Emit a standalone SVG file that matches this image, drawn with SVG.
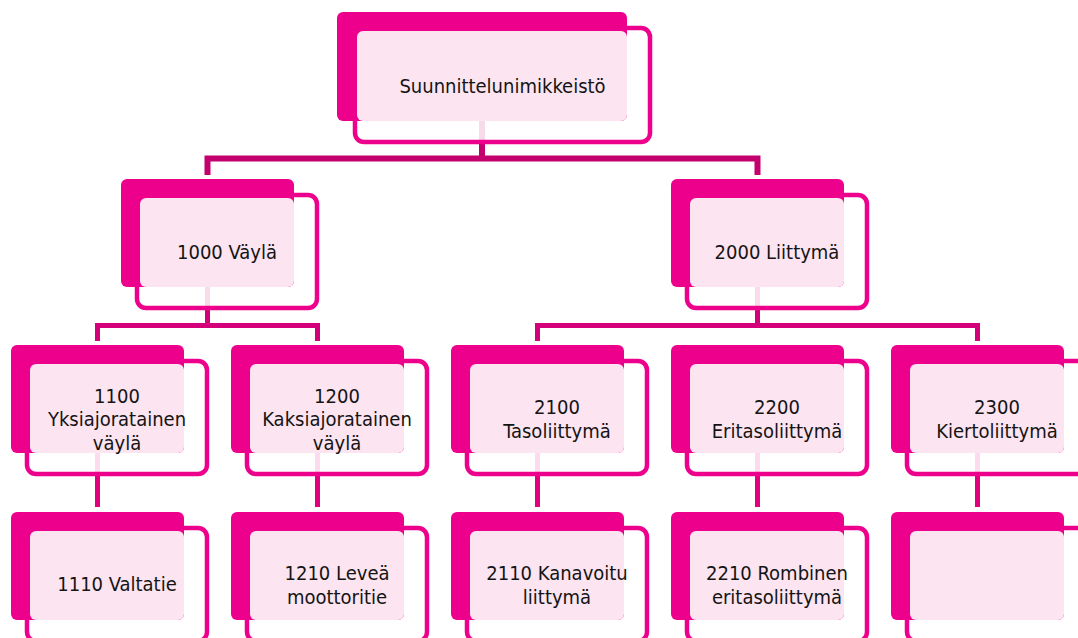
<svg xmlns="http://www.w3.org/2000/svg" width="1078" height="638" viewBox="0 0 1078 638">
<style>
.bg{fill:#ffffff}
.ol{fill:#ffffff;fill-opacity:0.86;stroke:#ec008c;stroke-width:4.5}
.mg{fill:#ec008c}
.pk{fill:#fce4f1}
.t{font-family:"DejaVu Sans Condensed","DejaVu Sans",sans-serif;font-size:20px;fill:#141414;text-anchor:middle}
.c1{fill:none;stroke:#c4006f;stroke-width:6}
.c2{fill:none;stroke:#d4007a;stroke-width:5}
.c3{fill:none;stroke:#e2007f;stroke-width:5}
</style>
<rect class="bg" x="0" y="0" width="1078" height="638"/>
<g id="connectors">
<path class="c1" d="M482 121 V158.5 M207.5 175 V158.5 H757.5 V175"/>
<path class="c2" d="M207.5 287 V325.5 M97.5 341 V325.5 H317.5 V341"/>
<path class="c2" d="M757.5 287 V325.5 M537.5 341 V325.5 H977.5 V341"/>
<path class="c3" d="M97.5 453 V507 M317.5 453 V507 M537.5 453 V507 M757.5 453 V507 M977.5 453 V507"/>
</g>
<g id="n-root">
<rect class="ol" x="355" y="28" width="295" height="114" rx="9"/>
<rect class="mg" x="337" y="12" width="290" height="109" rx="6"/>
<rect class="pk" x="357" y="31" width="270" height="90" rx="6"/>
<text class="t" x="502.5" y="92.5">Suunnittelunimikkeistö</text>
</g>
<g id="n-1000">
<rect class="ol" x="137" y="195" width="180" height="113" rx="9"/>
<rect class="mg" x="121" y="179" width="173" height="108" rx="6"/>
<rect class="pk" x="140" y="198" width="154" height="89" rx="6"/>
<text class="t" x="227" y="259">1000 Väylä</text>
</g>
<g id="n-2000">
<rect class="ol" x="687" y="195" width="180" height="113" rx="9"/>
<rect class="mg" x="671" y="179" width="173" height="108" rx="6"/>
<rect class="pk" x="690" y="198" width="154" height="89" rx="6"/>
<text class="t" x="777" y="259">2000 Liittymä</text>
</g>
<g id="n-1100">
<rect class="ol" x="27" y="361" width="180" height="113" rx="9"/>
<rect class="mg" x="11" y="345" width="173" height="108" rx="6"/>
<rect class="pk" x="30" y="364" width="154" height="89" rx="6"/>
<text class="t" x="117" y="402.5">1100</text>
<text class="t" x="117" y="426">Yksiajoratainen</text>
<text class="t" x="117" y="449.5">väylä</text>
</g>
<g id="n-1200">
<rect class="ol" x="247" y="361" width="180" height="113" rx="9"/>
<rect class="mg" x="231" y="345" width="173" height="108" rx="6"/>
<rect class="pk" x="250" y="364" width="154" height="89" rx="6"/>
<text class="t" x="337" y="402.5">1200</text>
<text class="t" x="337" y="426">Kaksiajoratainen</text>
<text class="t" x="337" y="449.5">väylä</text>
</g>
<g id="n-2100">
<rect class="ol" x="467" y="361" width="180" height="113" rx="9"/>
<rect class="mg" x="451" y="345" width="173" height="108" rx="6"/>
<rect class="pk" x="470" y="364" width="154" height="89" rx="6"/>
<text class="t" x="557" y="414">2100</text>
<text class="t" x="557" y="437.5">Tasoliittymä</text>
</g>
<g id="n-2200">
<rect class="ol" x="687" y="361" width="180" height="113" rx="9"/>
<rect class="mg" x="671" y="345" width="173" height="108" rx="6"/>
<rect class="pk" x="690" y="364" width="154" height="89" rx="6"/>
<text class="t" x="777" y="414">2200</text>
<text class="t" x="777" y="437.5">Eritasoliittymä</text>
</g>
<g id="n-2300">
<rect class="ol" x="907" y="361" width="180" height="113" rx="9"/>
<rect class="mg" x="891" y="345" width="173" height="108" rx="6"/>
<rect class="pk" x="910" y="364" width="154" height="89" rx="6"/>
<text class="t" x="997" y="414">2300</text>
<text class="t" x="997" y="437.5">Kiertoliittymä</text>
</g>
<g id="n-1110">
<rect class="ol" x="27" y="528" width="180" height="113" rx="9"/>
<rect class="mg" x="11" y="512" width="173" height="108" rx="6"/>
<rect class="pk" x="30" y="531" width="154" height="89" rx="6"/>
<text class="t" x="117" y="591">1110 Valtatie</text>
</g>
<g id="n-1210">
<rect class="ol" x="247" y="528" width="180" height="113" rx="9"/>
<rect class="mg" x="231" y="512" width="173" height="108" rx="6"/>
<rect class="pk" x="250" y="531" width="154" height="89" rx="6"/>
<text class="t" x="337" y="580">1210 Leveä</text>
<text class="t" x="337" y="603.5">moottoritie</text>
</g>
<g id="n-2110">
<rect class="ol" x="467" y="528" width="180" height="113" rx="9"/>
<rect class="mg" x="451" y="512" width="173" height="108" rx="6"/>
<rect class="pk" x="470" y="531" width="154" height="89" rx="6"/>
<text class="t" x="557" y="580">2110 Kanavoitu</text>
<text class="t" x="557" y="603.5">liittymä</text>
</g>
<g id="n-2210">
<rect class="ol" x="687" y="528" width="180" height="113" rx="9"/>
<rect class="mg" x="671" y="512" width="173" height="108" rx="6"/>
<rect class="pk" x="690" y="531" width="154" height="89" rx="6"/>
<text class="t" x="777" y="580">2210 Rombinen</text>
<text class="t" x="777" y="603.5">eritasoliittymä</text>
</g>
<g id="n-2310">
<rect class="ol" x="907" y="528" width="180" height="113" rx="9"/>
<rect class="mg" x="891" y="512" width="173" height="108" rx="6"/>
<rect class="pk" x="910" y="531" width="154" height="89" rx="6"/>
</g>
</svg>
